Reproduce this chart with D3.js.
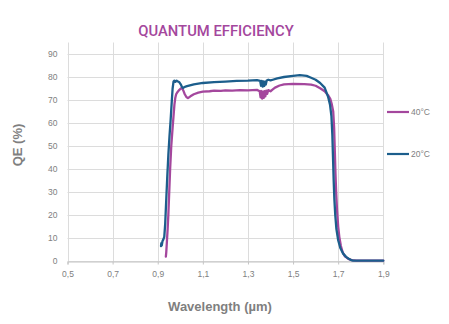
<!DOCTYPE html>
<html>
<head>
<meta charset="utf-8">
<script src="https://cdn.jsdelivr.net/npm/d3@7"></script>
<style>
  html, body { margin: 0; padding: 0; background: #fff; }
  svg { display: block; }
</style>
</head>
<body>
<svg id="chart" width="449" height="324"></svg>
<script>
// Quantum efficiency vs wavelength at two sensor temperatures
const xTicks = [0.5, 0.7, 0.9, 1.1, 1.3, 1.5, 1.7, 1.9];
const yTicks = [0, 10, 20, 30, 40, 50, 60, 70, 80, 90];
const seriesNames = ["40°C", "20°C"];
const seriesColors = ["#a4479d", "#1c5e8c"];

// 40°C curve: [wavelength µm, QE %]
const qe40 = [
  [0.936, 1.9], [0.938, 4], [0.941, 9], [0.944, 14], [0.947, 20], [0.951, 30],
  [0.955, 40], [0.960, 50], [0.966, 58], [0.970, 63], [0.974, 68], [0.978, 71],
  [0.982, 72.6], [0.988, 73.5], [0.995, 74.3], [1.002, 75], [1.008, 75.1],
  [1.014, 74], [1.020, 72.5], [1.027, 71.3], [1.034, 70.8], [1.045, 71.6],
  [1.060, 72.5], [1.080, 73.2], [1.100, 73.6], [1.130, 73.8], [1.150, 74.1],
  [1.180, 74], [1.200, 74.2], [1.230, 74.1], [1.265, 74.3], [1.300, 74.2],
  [1.340, 74.4], [1.352, 73.8], [1.356, 71.2], [1.359, 73.9], [1.363, 70.6],
  [1.366, 73.6], [1.370, 70.9], [1.373, 73.8], [1.377, 71.6], [1.381, 74.1],
  [1.385, 72.7], [1.390, 74.3], [1.400, 73.8], [1.410, 74.6], [1.420, 75.4],
  [1.440, 76.3], [1.460, 76.8], [1.500, 77.0], [1.550, 76.9], [1.580, 76.7],
  [1.600, 76.2], [1.620, 75.1], [1.640, 73.8], [1.655, 72.1], [1.665, 70.5],
  [1.672, 68], [1.678, 65], [1.682, 58], [1.685, 48], [1.688, 38], [1.691, 30],
  [1.695, 22], [1.700, 15], [1.705, 10.5], [1.712, 6.5], [1.720, 3.8],
  [1.730, 2.0], [1.745, 0.9], [1.760, 0.4], [1.780, 0.15], [1.900, 0.15]
];

// 20°C curve: [wavelength µm, QE %]
const qe20 = [
  [0.9145, 6.5], [0.916, 7.8], [0.918, 6.8], [0.921, 8.6], [0.925, 9.4],
  [0.929, 10.5], [0.933, 16], [0.937, 25], [0.942, 36], [0.947, 46],
  [0.952, 54], [0.957, 61], [0.962, 69], [0.966, 75], [0.970, 78],
  [0.974, 78.4], [0.978, 77.9], [0.984, 78.4], [0.990, 78], [0.996, 77.7],
  [1.002, 76.8], [1.007, 75.8], [1.012, 75.2], [1.020, 75.7], [1.030, 76],
  [1.060, 76.8], [1.100, 77.4], [1.150, 77.8], [1.200, 78.0], [1.250, 78.3],
  [1.300, 78.4], [1.340, 78.6], [1.354, 78.3], [1.358, 76.2], [1.361, 78.3],
  [1.365, 75.8], [1.368, 78.1], [1.372, 76.1], [1.375, 78], [1.379, 76.7],
  [1.383, 78.5], [1.390, 78.8], [1.400, 78.5], [1.410, 78.8], [1.430, 79.4],
  [1.460, 80.0], [1.500, 80.5], [1.530, 80.8], [1.560, 80.5], [1.580, 79.7],
  [1.600, 78.8], [1.620, 77.4], [1.640, 75.4], [1.655, 71.5], [1.664, 67.8],
  [1.670, 63], [1.674, 55], [1.677, 45], [1.680, 35], [1.683, 27],
  [1.687, 20], [1.692, 14], [1.700, 9], [1.710, 5.5], [1.722, 3.2],
  [1.735, 1.8], [1.745, 1.1], [1.755, 0.5], [1.766, 0.2], [1.800, 0.15],
  [1.900, 0.15]
];

const svg = d3.select("#chart");
const x = d3.scaleLinear().domain([0.5, 1.9]).range([67.5, 383.3]);
const y = d3.scaleLinear().domain([0, 95]).range([261, 42.5]);

const commaLocale = d3.formatLocale({ decimal: ",", thousands: ".", grouping: [3], currency: ["", ""] });
const fmtX = commaLocale.format(".1f");

const grid = svg.append("g").attr("stroke", "#dcdcdc").attr("stroke-width", 1);
yTicks.forEach(v => {
  grid.append("line")
    .attr("x1", x(0.5)).attr("x2", x(1.9))
    .attr("y1", Math.round(y(v)) + 0.5).attr("y2", Math.round(y(v)) + 0.5);
});
xTicks.forEach(v => {
  grid.append("line")
    .attr("x1", Math.round(x(v)) + 0.5).attr("x2", Math.round(x(v)) + 0.5)
    .attr("y1", y(95)).attr("y2", y(0));
});

// x axis
const xAxis = svg.append("g")
  .attr("transform", `translate(0,${Math.round(y(0)) + 0.5})`)
  .call(d3.axisBottom(x).tickValues(xTicks).tickFormat(fmtX).tickSize(3).tickPadding(6));
xAxis.select(".domain").attr("stroke", "#c4c4c4");
xAxis.selectAll(".tick line").attr("stroke", "#c4c4c4");
xAxis.selectAll("text")
  .attr("fill", "#808080").attr("font-family", "Liberation Sans, Arial, sans-serif").attr("font-size", 8.5);

// y axis labels
const yAxis = svg.append("g")
  .attr("transform", `translate(${x(0.5)},0)`)
  .call(d3.axisLeft(y).tickValues(yTicks).tickSize(0).tickPadding(10));
yAxis.select(".domain").remove();
yAxis.selectAll("text")
  .attr("fill", "#808080").attr("font-family", "Liberation Sans, Arial, sans-serif").attr("font-size", 8.5);

// curves
const line = d3.line().x(d => x(d[0])).y(d => y(d[1])).curve(d3.curveLinear);
[qe40, qe20].forEach((data, i) => {
  svg.append("path")
    .datum(data)
    .attr("fill", "none")
    .attr("stroke", seriesColors[i])
    .attr("stroke-width", 2.3)
    .attr("stroke-linejoin", "round")
    .attr("stroke-linecap", "round")
    .attr("d", line);
});

// legend
const legendY = [112, 154];
seriesNames.forEach((name, i) => {
  const g = svg.append("g").attr("transform", `translate(387,${legendY[i]})`);
  g.append("line").attr("x1", 0).attr("x2", 22).attr("y1", 0).attr("y2", 0)
    .attr("stroke", seriesColors[i]).attr("stroke-width", 2.2);
  g.append("text").attr("x", 24).attr("y", 3)
    .attr("fill", "#808080").attr("font-family", "Liberation Sans, Arial, sans-serif")
    .attr("font-size", 8.5).text(name);
});

// titles
svg.append("text")
  .attr("x", 216).attr("y", 35.5).attr("text-anchor", "middle")
  .attr("fill", "#a4479d").attr("font-family", "Roboto, sans-serif")
  .attr("font-size", 14.8).attr("font-weight", 500)
  .text("QUANTUM EFFICIENCY");

svg.append("text")
  .attr("transform", "translate(22,145) rotate(-90)")
  .attr("text-anchor", "middle")
  .attr("fill", "#7f7f7f").attr("font-family", "Liberation Sans, Arial, sans-serif")
  .attr("font-size", 13).attr("font-weight", "bold")
  .text("QE (%)");

svg.append("text")
  .attr("x", 220).attr("y", 311).attr("text-anchor", "middle")
  .attr("fill", "#7f7f7f").attr("font-family", "Liberation Sans, Arial, sans-serif")
  .attr("font-size", 13).attr("font-weight", "bold")
  .text("Wavelength (µm)");
</script>
</body>
</html>
